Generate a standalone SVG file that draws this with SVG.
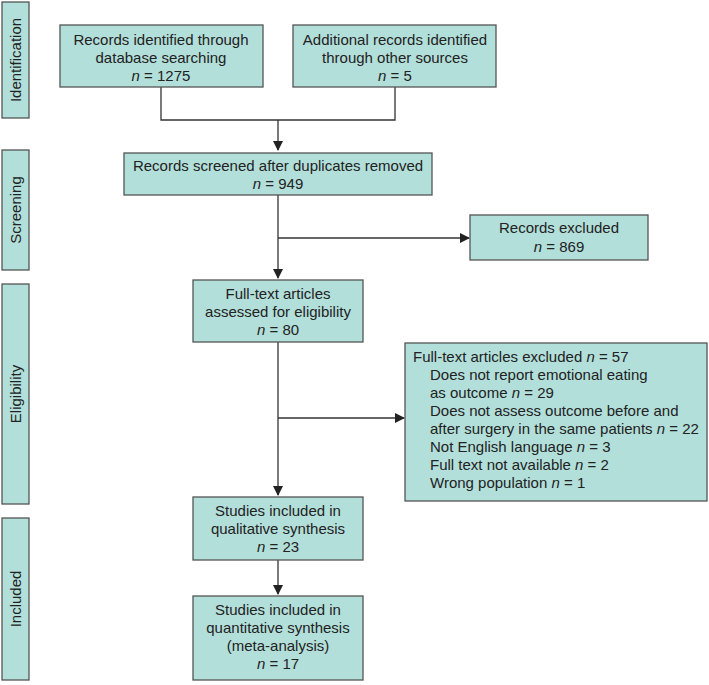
<svg xmlns="http://www.w3.org/2000/svg" width="709" height="685" viewBox="0 0 709 685">
<style>
.b{fill:#b2dfda;stroke:#555;stroke-width:1.3}
text{font-family:"Liberation Sans",Arial,sans-serif;font-size:15px;fill:#222}
.c{text-anchor:middle}
.l{fill:none;stroke:#333;stroke-width:1.3}
</style>
<defs><marker id="a" markerWidth="10" markerHeight="10" refX="9" refY="5" orient="auto" markerUnits="userSpaceOnUse"><path d="M0,0L10,5L0,10z" fill="#222"/></marker></defs>
<g id="side">
<rect class="b" x="2" y="2" width="27" height="116"/><text class="c" transform="translate(21,60) rotate(-90)">Identification</text>
<rect class="b" x="2" y="150" width="27" height="120"/><text class="c" transform="translate(21,210) rotate(-90)">Screening</text>
<rect class="b" x="2" y="284" width="27" height="220"/><text class="c" transform="translate(21,394) rotate(-90)">Eligibility</text>
<rect class="b" x="2" y="518" width="27" height="162"/><text class="c" transform="translate(21,599) rotate(-90)">Included</text>
</g>
<g id="connectors">
<path class="l" d="M161,87V120H395V87M278,120V150" marker-end="url(#a)"/>
<path class="l" d="M278,195V278" marker-end="url(#a)"/>
<path class="l" d="M278,238H469" marker-end="url(#a)"/>
<path class="l" d="M278,342V495" marker-end="url(#a)"/>
<path class="l" d="M278,418H404" marker-end="url(#a)"/>
<path class="l" d="M278,560V594" marker-end="url(#a)"/>
</g>
<g id="n1"><rect class="b" x="60" y="25" width="203" height="62"/><text class="c" x="161" y="45">Records identified through</text><text class="c" x="161" y="63">database searching</text><text class="c" x="161" y="81"><tspan font-style="italic">n</tspan> = 1275</text></g>
<g id="n2"><rect class="b" x="293" y="25" width="203" height="62"/><text class="c" x="395" y="45">Additional records identified</text><text class="c" x="395" y="63">through other sources</text><text class="c" x="395" y="81"><tspan font-style="italic">n</tspan> = 5</text></g>
<g id="n3"><rect class="b" x="124" y="153" width="308" height="42"/><text class="c" x="278" y="171">Records screened after duplicates removed</text><text class="c" x="278" y="189"><tspan font-style="italic">n</tspan> = 949</text></g>
<g id="n4"><rect class="b" x="470" y="215" width="178" height="45"/><text class="c" x="559" y="233">Records excluded</text><text class="c" x="559" y="252"><tspan font-style="italic">n</tspan> = 869</text></g>
<g id="n5"><rect class="b" x="193" y="280" width="170" height="62"/><text class="c" x="278" y="299">Full-text articles</text><text class="c" x="278" y="317">assessed for eligibility</text><text class="c" x="278" y="335"><tspan font-style="italic">n</tspan> = 80</text></g>
<g id="n6"><rect class="b" x="405" y="343" width="302" height="158"/>
<text x="413" y="362">Full-text articles excluded <tspan font-style="italic">n</tspan> = 57</text>
<text x="430" y="380">Does not report emotional eating</text>
<text x="430" y="398">as outcome <tspan font-style="italic">n</tspan> = 29</text>
<text x="430" y="416">Does not assess outcome before and</text>
<text x="430" y="434">after surgery in the same patients <tspan font-style="italic">n</tspan> = 22</text>
<text x="430" y="452">Not English language <tspan font-style="italic">n</tspan> = 3</text>
<text x="430" y="470">Full text not available <tspan font-style="italic">n</tspan> = 2</text>
<text x="430" y="488">Wrong population <tspan font-style="italic">n</tspan> = 1</text></g>
<g id="n7"><rect class="b" x="193" y="497" width="170" height="63"/><text class="c" x="278" y="516">Studies included in</text><text class="c" x="278" y="534">qualitative synthesis</text><text class="c" x="278" y="552"><tspan font-style="italic">n</tspan> = 23</text></g>
<g id="n8"><rect class="b" x="193" y="596" width="170" height="84"/><text class="c" x="278" y="615">Studies included in</text><text class="c" x="278" y="633">quantitative synthesis</text><text class="c" x="278" y="651">(meta-analysis)</text><text class="c" x="278" y="669"><tspan font-style="italic">n</tspan> = 17</text></g>
</svg>
